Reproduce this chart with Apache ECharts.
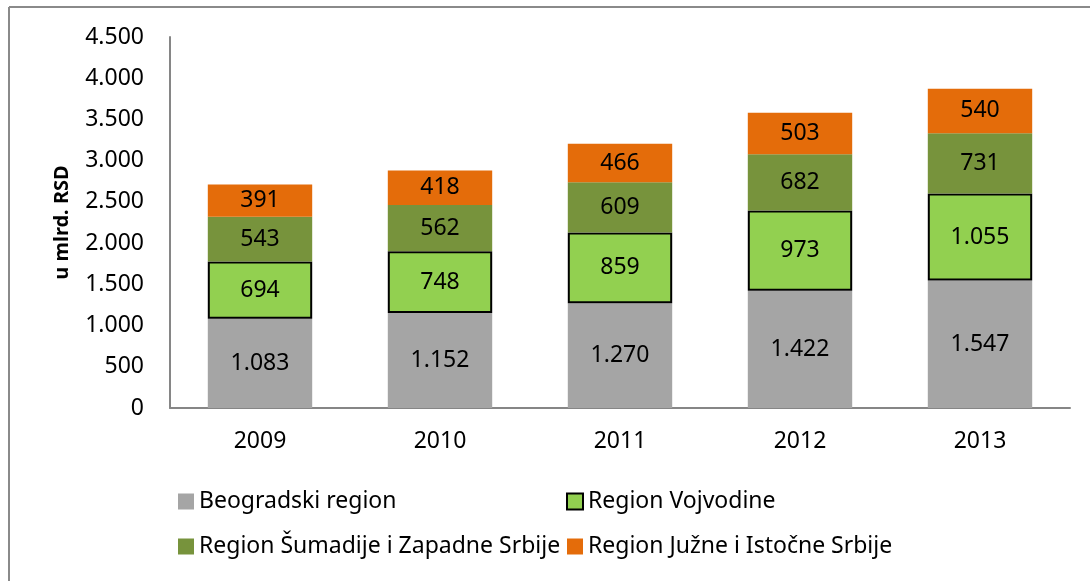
<!DOCTYPE html>
<html>
<head>
<meta charset="utf-8">
<script src="https://cdn.jsdelivr.net/npm/echarts@6/dist/echarts.min.js"></script>
<style>
  html, body { margin: 0; padding: 0; background: #fff; }
  #chart { width: 1090px; height: 581px; }
</style>
</head>
<body>
<div id="chart"></div>
<script>
// podaci sa slike (u mlrd. RSD)
const years = ['2009', '2010', '2011', '2012', '2013']
const beograd = [1083, 1152, 1270, 1422, 1547]
const vojvodina = [694, 748, 859, 973, 1055]
const sumadija = [543, 562, 609, 682, 731]
const juzna = [391, 418, 466, 503, 540]

const FONT = '"Noto Sans", sans-serif'

// hiljade sa tackom: 1083 -> 1.083
const fmt = v => String(v).replace(/\B(?=(\d{3})+(?!\d))/g, '.')

const barLabel = {
  show: true,
  position: 'inside',
  color: '#000',
  fontFamily: FONT,
  fontSize: 23,
  formatter: p => fmt(p.value)
}

function makeSeries(name, data, color, border) {
  return {
    name: name,
    type: 'bar',
    stack: 'ukupno',
    barWidth: '58%',
    data: data,
    label: barLabel,
    itemStyle: border
      ? { color: color, borderColor: '#000', borderWidth: 2 }
      : { color: color }
  }
}

const legendText = { color: '#000', fontFamily: FONT, fontSize: 23 }

const chart = echarts.init(document.getElementById('chart'))
chart.setOption({
  animation: false,
  textStyle: { fontFamily: FONT },
  grid: { left: 170, right: 20, top: 37, bottom: 173, containLabel: false },
  legend: [
    {
      orient: 'vertical',
      left: 173,
      top: 485,
      itemWidth: 16,
      itemHeight: 16,
      itemGap: 22,
      icon: 'rect',
      textStyle: legendText,
      data: ['Beogradski region', 'Region Šumadije i Zapadne Srbije']
    },
    {
      orient: 'vertical',
      left: 561,
      top: 485,
      itemWidth: 16,
      itemHeight: 16,
      itemGap: 22,
      icon: 'rect',
      textStyle: legendText,
      data: ['Region Vojvodine', 'Region Južne i Istočne Srbije']
    }
  ],
  xAxis: {
    type: 'category',
    data: years,
    axisLine: { lineStyle: { color: '#868686', width: 2 } },
    axisTick: { show: false },
    axisLabel: { color: '#000', fontFamily: FONT, fontSize: 23, margin: 22 }
  },
  yAxis: {
    type: 'value',
    min: 0,
    max: 4500,
    interval: 500,
    name: 'u mlrd. RSD',
    nameLocation: 'middle',
    nameGap: 98,
    nameTextStyle: { color: '#000', fontFamily: FONT, fontSize: 20, fontWeight: 'bold' },
    axisLine: { show: true, lineStyle: { color: '#868686', width: 2 } },
    axisTick: { show: false },
    splitLine: { show: false },
    axisLabel: { color: '#000', fontFamily: FONT, fontSize: 23, margin: 26, formatter: v => fmt(v) }
  },
  series: [
    makeSeries('Beogradski region', beograd, '#A5A5A5', false),
    makeSeries('Region Vojvodine', vojvodina, '#92D050', true),
    makeSeries('Region Šumadije i Zapadne Srbije', sumadija, '#77933C', false),
    makeSeries('Region Južne i Istočne Srbije', juzna, '#E46C0A', false)
  ],
  graphic: [
    { type: 'line', shape: { x1: 9, y1: 7, x2: 1090, y2: 7 }, style: { stroke: '#8a8a8a', lineWidth: 2 } },
    { type: 'line', shape: { x1: 9, y1: 7, x2: 9, y2: 581 }, style: { stroke: '#8a8a8a', lineWidth: 2 } }
  ]
})
</script>
</body>
</html>
